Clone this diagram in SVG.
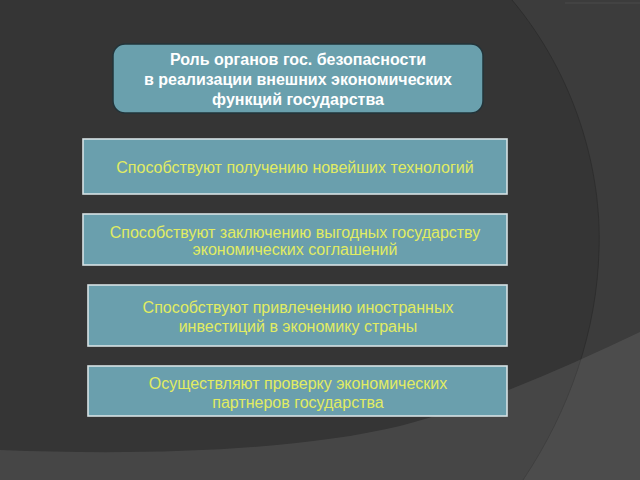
<svg xmlns="http://www.w3.org/2000/svg" width="640" height="480" viewBox="0 0 640 480">
<style>
.box{fill:#6a9fad;stroke:#d6e2e4;stroke-width:1.6}
.title{fill:#6aa0ad;stroke:#22343a;stroke-width:1.5}
.tt{font-family:"Liberation Sans",Arial,sans-serif;font-weight:bold;font-size:16px;fill:#ffffff;text-anchor:middle}
.yt{font-family:"Liberation Sans",Arial,sans-serif;font-size:16px;fill:#e1ec62;text-anchor:middle}
</style>
<g id="background">
<rect x="0" y="0" width="640" height="480" fill="#353535"/>
<path d="M512,0 C575,75 602,170 599,250 C597,330 570,410 523,480 L640,480 L640,0 Z" fill="#ffffff" fill-opacity="0.035"/>
<path d="M512,0 C575,75 602,170 599,250 C597,330 570,410 523,480" fill="none" stroke="#2a2a2a" stroke-width="1" stroke-opacity="0.7"/>
<path d="M0,450 C150,456 300,450 400,426 C480,405 560,370 640,332 L640,480 L0,480 Z" fill="#ffffff" fill-opacity="0.085"/>
<line x1="565" y1="3" x2="640" y2="3" stroke="#4a4a4a" stroke-width="1"/>
</g>
<g id="title">
<rect class="title" x="113" y="44" width="370" height="69" rx="12" ry="12"/>
<text class="tt" x="298" y="64.5">Роль органов гос. безопасности</text>
<text class="tt" x="298" y="84.5">в реализации внешних экономических</text>
<text class="tt" x="298" y="104.5">функций государства</text>
</g>
<g id="node1">
<rect class="box" x="83" y="139" width="424" height="55"/>
<text class="yt" x="295" y="172.5">Способствуют получению новейших технологий</text>
</g>
<g id="node2">
<rect class="box" x="83" y="214" width="424" height="51"/>
<text class="yt" x="295" y="237.5">Способствуют заключению выгодных государству</text>
<text class="yt" x="295" y="255">экономических соглашений</text>
</g>
<g id="node3">
<rect class="box" x="88" y="285" width="419" height="61"/>
<text class="yt" x="298" y="312.5">Способствуют привлечению иностранных</text>
<text class="yt" x="298" y="331.5">инвестиций в экономику страны</text>
</g>
<g id="node4">
<rect class="box" x="88" y="366" width="419" height="50"/>
<text class="yt" x="298" y="388.5">Осуществляют проверку экономических</text>
<text class="yt" x="298" y="407.5">партнеров государства</text>
</g>
<g id="connectors"/>
</svg>
